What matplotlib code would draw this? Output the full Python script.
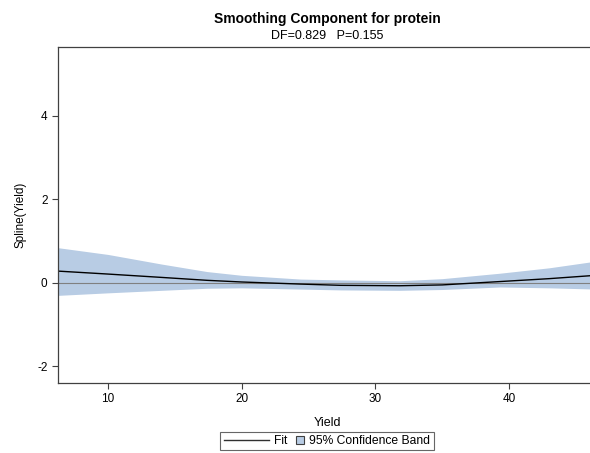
import matplotlib
matplotlib.use('Agg')
import matplotlib.pyplot as plt
from matplotlib.lines import Line2D
from matplotlib.patches import Patch, Rectangle
from matplotlib.legend_handler import HandlerPatch
import numpy as np

plt.rcParams['font.family'] = ['Liberation Sans', 'DejaVu Sans']
plt.rcParams['axes.unicode_minus'] = False

# values
yield_x = [6.3, 10, 14, 17.4, 20, 24.4, 27.4, 31.8, 35, 39.3, 43, 46.5]
fit = [0.28, 0.21, 0.13, 0.06, 0.02, -0.03, -0.06, -0.07, -0.05, 0.03, 0.10, 0.18]
upper = [0.84, 0.68, 0.45, 0.27, 0.18, 0.09, 0.07, 0.05, 0.10, 0.23, 0.36, 0.52]
lower = [-0.30, -0.24, -0.18, -0.13, -0.12, -0.15, -0.17, -0.18, -0.16, -0.10, -0.12, -0.15]

x_ticks = [10, 20, 30, 40]
y_ticks = [-2, 0, 2, 4]

band_color = '#B8CCE4'
frame_color = '#404040'


def small_square(legend, orig_handle, xdescent, ydescent, width, height, fontsize):
    side = 6.0
    return Rectangle((-xdescent, -ydescent + (height - side) / 2), side, side)


fig = plt.figure(figsize=(5.9, 4.53), dpi=100)
# plot area runs a little past the right edge of the image
ax = fig.add_axes([58 / 590, 1 - 383 / 453, 538 / 590, 336 / 453])
center_x = (58 + 538 / 2) / 590

ax.fill_between(yield_x, lower, upper, color=band_color, linewidth=0)
ax.axhline(0, color='#808080', linewidth=0.8)
ax.plot(yield_x, fit, color='black', linewidth=1)

ax.set_xlim(6.26, 46.5)
ax.set_ylim(-2.4, 5.65)
ax.set_xticks(x_ticks)
ax.set_yticks(y_ticks)
ax.tick_params(direction='out', length=4, width=0.8, colors=frame_color,
               labelsize=8.5, labelcolor='black')
for s in ax.spines.values():
    s.set_color(frame_color)
    s.set_linewidth(0.9)
ax.spines['right'].set_visible(False)

ax.set_xlabel('Yield', fontsize=9, labelpad=8)
ax.set_ylabel('Spline(Yield)', fontsize=8.5, labelpad=8)

fig.text(center_x, 1 - 19 / 453, 'Smoothing Component for protein', ha='center', va='center',
         fontsize=10, fontweight='bold')
fig.text(center_x, 1 - 36 / 453, 'DF=0.829   P=0.155', ha='center', va='center', fontsize=9)

handles = [Line2D([0], [0], color='#303030', linewidth=1),
           Patch(facecolor=band_color, edgecolor=frame_color, linewidth=0.8)]
leg = fig.legend(handles, ['Fit', '95% Confidence Band'], loc='center',
                 bbox_to_anchor=(center_x, 1 - 441 / 453), ncol=2, fontsize=8.7,
                 frameon=True, fancybox=False, handlelength=3.8, handletextpad=0.4,
                 columnspacing=0.65, borderpad=0.28, borderaxespad=0,
                 handler_map={Patch: HandlerPatch(patch_func=small_square)})
leg.get_frame().set_edgecolor(frame_color)
leg.get_frame().set_linewidth(0.8)
# shrink the slot of the square so the text sits right after it
leg._legend_handle_box.get_children()[1].get_children()[0].get_children()[0].width = 6.5

fig.savefig('out.png', dpi=100)
